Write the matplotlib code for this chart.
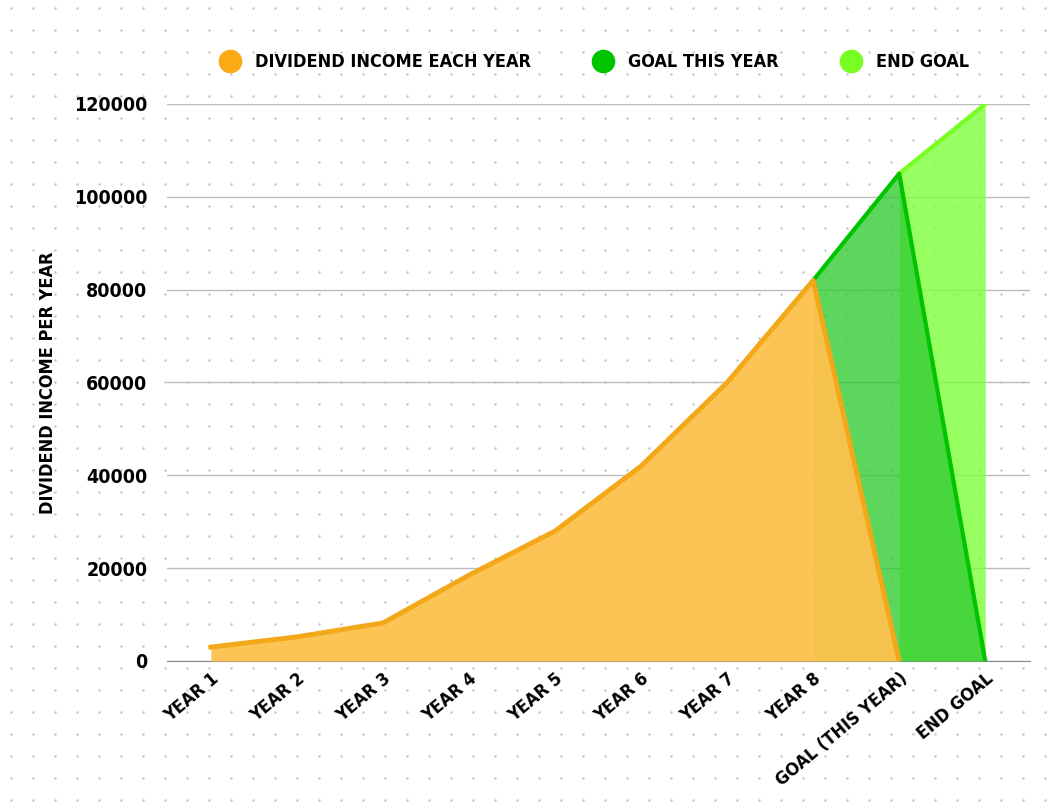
import numpy as np
import matplotlib.pyplot as plt

plt.rcParams['font.family'] = ['DejaVu Sans']
plt.rcParams['font.stretch'] = 'condensed'
plt.rcParams['font.weight'] = 'bold'

labels = ["YEAR 1", "YEAR 2", "YEAR 3", "YEAR 4", "YEAR 5", "YEAR 6", "YEAR 7",
          "YEAR 8", "GOAL (THIS YEAR)", "END GOAL"]
income = [3000, 5200, 8200, 18500, 28000, 42000, 60000, 82000, 0, 0]
goal_x = [7, 8, 9]
goal_y = [82000, 105000, 0]
end_x = [8, 9]
end_y = [105000, 120000]

fig = plt.figure(figsize=(10.64, 8.11), dpi=100)
fig.patch.set_facecolor('white')

# dotted background
bg = fig.add_axes([0, 0, 1, 1], zorder=-5)
gx, gy = np.meshgrid(np.arange(11, 1064, 22), np.arange(8, 811, 22))
bg.scatter(gx.ravel(), gy.ravel(), s=3, color='#c4c4c4', lw=0)
bg.set_xlim(0, 1064); bg.set_ylim(811, 0); bg.axis('off')

ax = fig.add_axes([167/1064, 1 - 661/811, (1030 - 167)/1064, (661 - 104)/811])
ax.patch.set_alpha(0)
x = np.arange(len(labels))

ax.fill_between(end_x, end_y, color='#7dff3a', alpha=0.8, lw=0, zorder=1)
ax.plot(end_x, end_y, color='#77ff22', lw=3, zorder=2)
ax.fill_between(goal_x, goal_y, color='#33cc33', alpha=0.8, lw=0, zorder=3)
ax.plot(goal_x, goal_y, color='#00c400', lw=3, zorder=4)
ax.fill_between(x[:9], income[:9], color='#fcc24e', alpha=0.97, lw=0, zorder=5)
ax.plot(x[:9], income[:9], color='#f2a818', lw=3.5, zorder=6)

ax.set_xlim(-0.51, 9.52)
ax.set_ylim(0, 120000)
ax.set_yticks(range(0, 120001, 20000))
ax.grid(axis='y', color='#bbbbbb', lw=1)
ax.set_axisbelow(True)
ax.set_xticks(x)
ax.set_xticklabels(labels, rotation=40, ha='right', rotation_mode='anchor', fontsize=13)
ax.tick_params(axis='y', labelsize=14, length=0, pad=14)
ax.tick_params(axis='x', length=0, pad=6)
for s in ['top', 'right', 'left']:
    ax.spines[s].set_visible(False)
ax.spines['bottom'].set_color('#888888')
ax.set_ylabel("DIVIDEND INCOME PER YEAR", fontsize=13, fontweight='bold', labelpad=12)

handles = [plt.Line2D([], [], marker='o', ls='', ms=16, color=c) for c in
           ['#fba914', '#00c400', '#77ff22']]
fig.legend(handles, ["DIVIDEND INCOME EACH YEAR", "GOAL THIS YEAR", "END GOAL"],
           loc='center', bbox_to_anchor=(0.555, 1 - 62/811), ncol=3, frameon=False,
           fontsize=13, handletextpad=0.4, columnspacing=3)

fig.savefig('out.png', dpi=100)
